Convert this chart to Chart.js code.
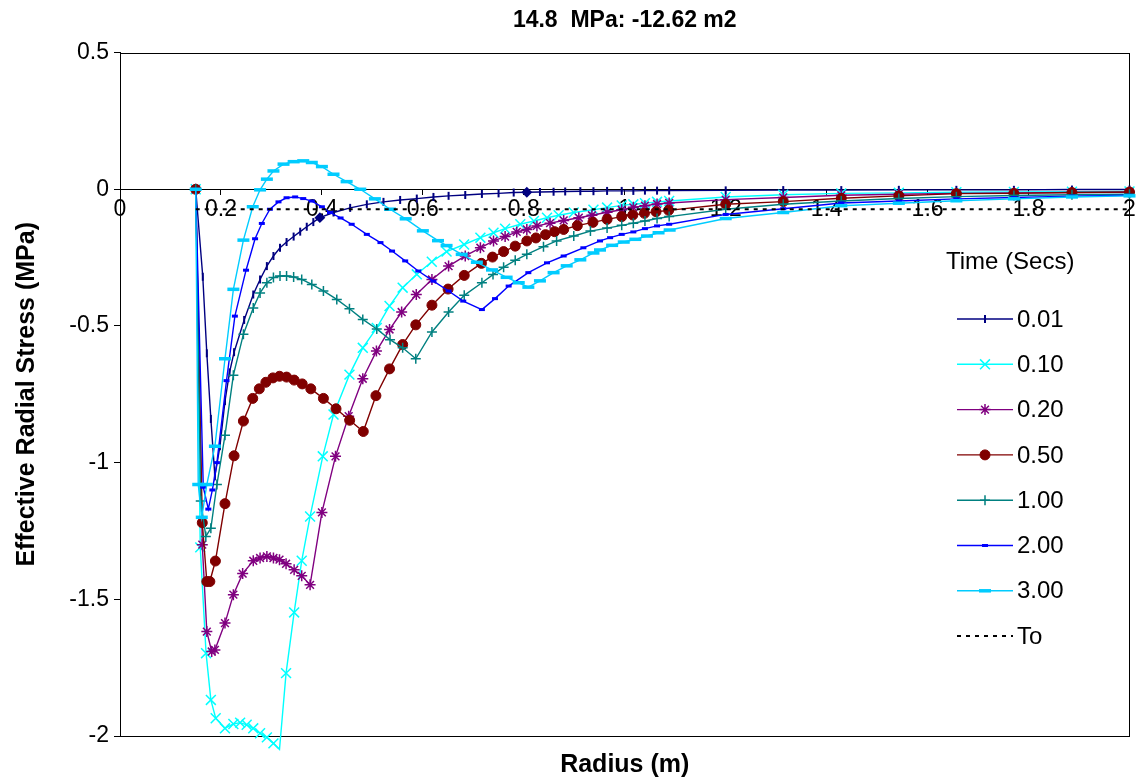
<!DOCTYPE html>
<html><head><meta charset="utf-8">
<script src="https://cdn.jsdelivr.net/npm/chart.js@4.4.1/dist/chart.umd.min.js"></script>
<style>html,body{margin:0;padding:0;background:#fff}canvas{display:block}</style>
</head><body>
<canvas id="c" width="1139" height="780"></canvas>
<script>
// ---------- data ----------
const chartTitle = '14.8  MPa: -12.62 m2';
const xTitle = 'Radius (m)';
const yTitle = 'Effective Radial Stress (MPa)';
const legendTitle = 'Time (Secs)';
const seriesLabels = ['0.01','0.10','0.20','0.50','1.00','2.00','3.00'];
const xMin = 0, xMax = 2, xStep = 0.2;
const yMin = -2, yMax = 0.5, yStep = 0.5;

const r001 = [0.15,0.164,0.172,0.180,0.188,0.198,0.208,0.217,0.226,0.246,0.264,0.2775,0.291,0.304,0.317,0.330,0.344,0.357,0.370,0.383,0.396,0.423,0.456,0.489,0.522,0.555,0.588,0.621,0.651,0.684,0.717,0.750,0.780,0.806,0.832,0.859,0.882,0.912,0.938,0.965,0.994,1.017,1.040,1.064,1.088,1.2,1.314,1.429,1.543,1.657,1.771,1.886,2.0];
const s001 = [0,-0.32,-0.60,-0.84,-1.05,-0.94,-0.775,-0.67,-0.596,-0.478,-0.385,-0.330,-0.281,-0.244,-0.214,-0.193,-0.173,-0.155,-0.137,-0.120,-0.104,-0.085,-0.068,-0.055,-0.046,-0.039,-0.034,-0.028,-0.024,-0.021,-0.017,-0.015,-0.012,-0.011,-0.010,-0.009,-0.008,-0.007,-0.007,-0.006,-0.006,-0.006,-0.005,-0.005,-0.005,-0.004,-0.003,-0.003,-0.002,-0.002,-0.002,-0.001,-0.001];

const r010 = [0.15,0.159,0.1705,0.180,0.1896,0.208,0.2246,0.238,0.251,0.264,0.2775,0.291,0.304,0.316,0.329,0.345,0.360,0.3766,0.4017,0.423,0.4546,0.481,0.5087,0.534,0.560,0.588,0.6177,0.647,0.6818,0.714,0.740,0.763,0.793,0.820,0.846,0.869,0.899,0.938,0.965,0.994,1.017,1.040,1.064,1.088,1.2,1.314,1.429,1.543,1.657,1.771,1.886,2.0];
const s010 = [0,-1.31,-1.697,-1.868,-1.935,-1.972,-1.956,-1.951,-1.959,-1.972,-1.990,-2.005,-2.027,-2.049,-1.77,-1.548,-1.359,-1.197,-0.977,-0.824,-0.678,-0.580,-0.507,-0.427,-0.360,-0.311,-0.265,-0.228,-0.202,-0.177,-0.159,-0.144,-0.128,-0.116,-0.104,-0.095,-0.085,-0.075,-0.067,-0.059,-0.055,-0.051,-0.046,-0.043,-0.028,-0.020,-0.015,-0.013,-0.011,-0.010,-0.009,-0.008];

const r020 = [0.15,0.163,0.172,0.1817,0.188,0.208,0.2246,0.243,0.264,0.2775,0.291,0.304,0.316,0.329,0.345,0.360,0.3766,0.400,0.427,0.453,0.481,0.508,0.534,0.558,0.587,0.618,0.651,0.684,0.714,0.740,0.763,0.786,0.806,0.826,0.852,0.879,0.909,0.935,0.965,0.994,1.017,1.040,1.064,1.088,1.2,1.314,1.429,1.543,1.657,1.771,1.886,2.0];
const s020 = [0,-1.30,-1.618,-1.691,-1.685,-1.587,-1.483,-1.406,-1.359,-1.349,-1.343,-1.349,-1.355,-1.370,-1.392,-1.414,-1.447,-1.182,-0.977,-0.83,-0.693,-0.592,-0.513,-0.449,-0.385,-0.330,-0.281,-0.244,-0.214,-0.189,-0.173,-0.156,-0.147,-0.134,-0.124,-0.114,-0.104,-0.095,-0.084,-0.075,-0.066,-0.060,-0.054,-0.050,-0.038,-0.030,-0.022,-0.018,-0.015,-0.013,-0.012,-0.011];

const r050 = [0.15,0.163,0.172,0.178,0.189,0.208,0.226,0.2445,0.263,0.276,0.289,0.303,0.316,0.330,0.345,0.361,0.378,0.403,0.428,0.455,0.482,0.507,0.534,0.560,0.586,0.618,0.650,0.682,0.716,0.738,0.760,0.783,0.806,0.824,0.843,0.861,0.879,0.906,0.937,0.965,0.994,1.016,1.039,1.062,1.087,1.2,1.314,1.429,1.543,1.657,1.771,1.886,2.0];
const s050 = [0,-1.22,-1.435,-1.435,-1.36,-1.15,-0.975,-0.848,-0.765,-0.730,-0.706,-0.690,-0.684,-0.687,-0.698,-0.712,-0.730,-0.765,-0.803,-0.845,-0.886,-0.755,-0.657,-0.568,-0.496,-0.424,-0.365,-0.315,-0.271,-0.248,-0.228,-0.208,-0.189,-0.178,-0.166,-0.155,-0.147,-0.133,-0.121,-0.110,-0.100,-0.094,-0.088,-0.082,-0.077,-0.055,-0.045,-0.033,-0.024,-0.016,-0.015,-0.012,-0.010];

const r100 = [0.15,0.160,0.170,0.180,0.192,0.208,0.2246,0.2445,0.264,0.2775,0.291,0.304,0.317,0.330,0.344,0.360,0.380,0.403,0.4295,0.4546,0.481,0.5087,0.535,0.560,0.586,0.618,0.651,0.682,0.717,0.739,0.760,0.783,0.806,0.839,0.865,0.899,0.932,0.965,0.994,1.017,1.040,1.064,1.088,1.2,1.314,1.429,1.543,1.657,1.771,1.886,2.0];
const s100 = [0,-1.14,-1.27,-1.24,-1.08,-0.90,-0.68,-0.53,-0.434,-0.379,-0.342,-0.323,-0.317,-0.317,-0.321,-0.330,-0.348,-0.372,-0.403,-0.437,-0.476,-0.511,-0.550,-0.580,-0.620,-0.522,-0.449,-0.388,-0.342,-0.312,-0.285,-0.260,-0.238,-0.210,-0.189,-0.171,-0.153,-0.142,-0.132,-0.124,-0.116,-0.107,-0.100,-0.073,-0.055,-0.043,-0.034,-0.027,-0.023,-0.020,-0.018];

const r200 = [0.15,0.165,0.175,0.183,0.192,0.211,0.2276,0.2497,0.2676,0.281,0.297,0.314,0.330,0.347,0.363,0.380,0.400,0.416,0.437,0.459,0.489,0.516,0.539,0.565,0.591,0.621,0.651,0.680,0.717,0.743,0.770,0.809,0.846,0.879,0.918,0.951,0.971,0.994,1.017,1.040,1.064,1.088,1.2,1.314,1.429,1.543,1.657,1.771,1.886,2.0];
const s200 = [0,-1.09,-1.17,-1.10,-1.00,-0.70,-0.464,-0.296,-0.181,-0.125,-0.073,-0.046,-0.031,-0.028,-0.034,-0.043,-0.064,-0.085,-0.105,-0.128,-0.165,-0.195,-0.226,-0.262,-0.299,-0.336,-0.372,-0.409,-0.440,-0.400,-0.354,-0.305,-0.269,-0.244,-0.214,-0.189,-0.177,-0.165,-0.156,-0.144,-0.134,-0.128,-0.092,-0.071,-0.050,-0.043,-0.035,-0.030,-0.025,-0.022];

const r300 = [0.15,0.155,0.162,0.172,0.188,0.208,0.2246,0.2445,0.263,0.2775,0.291,0.304,0.324,0.344,0.363,0.380,0.400,0.423,0.449,0.476,0.505,0.535,0.566,0.600,0.630,0.647,0.677,0.707,0.737,0.766,0.790,0.809,0.832,0.859,0.885,0.912,0.938,0.951,0.975,0.998,1.021,1.044,1.067,1.089,1.2,1.314,1.429,1.543,1.657,1.771,1.886,2.0];
const s300 = [0,-1.08,-1.20,-1.08,-0.94,-0.62,-0.366,-0.186,-0.064,-0.002,0.037,0.067,0.092,0.101,0.104,0.098,0.083,0.055,0.028,0.0,-0.035,-0.073,-0.108,-0.152,-0.188,-0.206,-0.238,-0.267,-0.295,-0.322,-0.342,-0.358,-0.335,-0.305,-0.280,-0.258,-0.233,-0.222,-0.205,-0.193,-0.183,-0.171,-0.159,-0.149,-0.107,-0.085,-0.060,-0.051,-0.042,-0.035,-0.028,-0.024];

const toRadius = [0.15, 2.0];
const toStress = [-0.073, -0.073];
const navyDiamondAt = [0.396, 0.806];

// ---------- styles ----------
const FONT = "'Liberation Sans', Arial, Helvetica, sans-serif";
const styles = [
  {color:'#000080', style:'line', rot:90, radius:4, bw:2},
  {color:'#00FFFF', style:'crossRot', rot:0, radius:7, bw:1.5},
  {color:'#800080', style:'star', rot:0, radius:5.5, bw:1.5},
  {color:'#800000', style:'circle', rot:0, radius:5, bw:1},
  {color:'#008080', style:'cross', rot:0, radius:5, bw:1.5},
  {color:'#0000FF', style:'line', rot:0, radius:3, bw:3},
  {color:'#00CCFF', style:'line', rot:0, radius:6, bw:3.5}
];
const radii = [r001,r010,r020,r050,r100,r200,r300];
const stresses = [s001,s010,s020,s050,s100,s200,s300];

const toXY = (xs, ys) => xs.map((x, i) => ({x: x, y: ys[i]}));
const fmtTick = v => String(Number(v.toFixed(2)));

const datasets = seriesLabels.map((lab, i) => {
  const st = styles[i];
  let ps = st.style;
  if (i === 0) ps = r001.map(r => navyDiamondAt.includes(r) ? 'rectRot' : 'line');
  return {
    label: lab,
    data: toXY(radii[i], stresses[i]),
    borderColor: st.color,
    backgroundColor: st.color,
    borderWidth: 1.4,
    pointStyle: ps,
    legendPointStyle: st.style,
    pointRotation: st.rot,
    pointRadius: st.radius,
    pointBorderWidth: st.bw,
    pointBorderColor: st.color,
    pointBackgroundColor: st.color,
    showLine: true,
    tension: 0,
    clip: false,
    order: -i
  };
});
datasets.push({
  label: 'To',
  data: toXY(toRadius, toStress),
  borderColor: '#000',
  borderWidth: 2,
  borderDash: [4, 5],
  pointRadius: 0,
  showLine: true,
  clip: false,
  order: -10
});

const framePlugin = {
  id: 'frame',
  beforeDatasetsDraw(chart) {
    const {ctx, chartArea: a} = chart;
    ctx.save();
    ctx.strokeStyle = '#000';
    ctx.lineWidth = 1;
    ctx.strokeRect(Math.round(a.left) + 0.5, Math.round(a.top) + 0.5, Math.round(a.right - a.left) - 1, Math.round(a.bottom - a.top));
    ctx.restore();
  }
};

const legendPlugin = {
  id: 'sideLegend',
  afterDraw(chart) {
    const ctx = chart.ctx;
    ctx.save();
    ctx.font = '24px ' + FONT;
    ctx.textBaseline = 'middle';
    ctx.textAlign = 'left';
    ctx.fillStyle = '#000';
    ctx.fillText(legendTitle, 946, 262);
    chart.data.datasets.forEach((ds, i) => {
      const y = 319 + i * 45.3;
      ctx.strokeStyle = ds.borderColor;
      ctx.lineWidth = ds.borderWidth;
      ctx.setLineDash(ds.borderDash || []);
      ctx.beginPath();
      ctx.moveTo(957, y); ctx.lineTo(1013, y);
      ctx.stroke();
      ctx.setLineDash([]);
      if (ds.pointRadius > 0) {
        ctx.fillStyle = ds.pointBackgroundColor;
        ctx.strokeStyle = ds.pointBorderColor;
        ctx.lineWidth = ds.pointBorderWidth;
        Chart.helpers.drawPoint(ctx, {pointStyle: ds.legendPointStyle, rotation: ds.pointRotation, radius: ds.pointRadius, borderWidth: ds.pointBorderWidth}, 985, y);
      }
      ctx.fillStyle = '#000';
      ctx.fillText(ds.label, 1017, y + 1);
    });
    ctx.restore();
  }
};

Chart.defaults.font.family = FONT;
Chart.defaults.color = '#000';

new Chart(document.getElementById('c'), {
  type: 'scatter',
  data: {datasets: datasets},
  options: {
    responsive: false,
    animation: false,
    devicePixelRatio: 1,
    layout: {padding: {left: 0, right: 1, top: 0, bottom: 0}},
    plugins: {
      legend: {display: false},
      tooltip: {enabled: false},
      title: {display: true, text: chartTitle, fullSize: false, color: '#000',
              font: {size: 23, weight: 'bold'}, padding: {top: 7, bottom: 18}}
    },
    scales: {
      x: {
        type: 'linear', position: {y: 0}, min: xMin, max: xMax,
        ticks: {stepSize: xStep, font: {size: 23}, color: '#000', padding: 2, maxRotation: 0, autoSkip: false, callback: fmtTick},
        grid: {drawOnChartArea: false, tickLength: 5, color: '#000'},
        border: {color: '#000', width: 1}
      },
      x2: {
        type: 'linear', position: 'bottom', min: xMin, max: xMax,
        ticks: {display: false},
        grid: {display: false},
        border: {display: false},
        title: {display: true, text: xTitle, color: '#000', font: {size: 25, weight: 'bold'}, padding: {top: 0, bottom: 0}},
        afterFit(s) { s.height = 44; }
      },
      y: {
        type: 'linear', position: 'left', min: yMin, max: yMax,
        ticks: {stepSize: yStep, font: {size: 23}, color: '#000', padding: 5, callback: fmtTick},
        grid: {drawOnChartArea: false, tickLength: 6, color: '#000'},
        border: {color: '#000', width: 1},
        title: {display: true, text: yTitle, color: '#000', font: {size: 25, weight: 'bold'}, padding: {top: 12, bottom: 0}},
        afterFit(s) { s.width = 120; }
      }
    }
  },
  plugins: [framePlugin, legendPlugin]
});
</script>
</body></html>
